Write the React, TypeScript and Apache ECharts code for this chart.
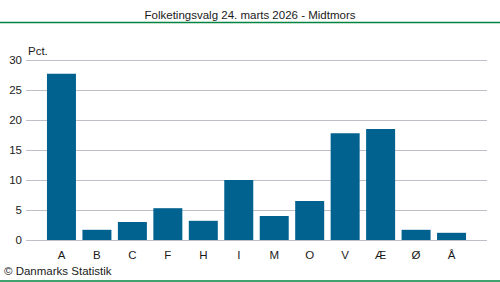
import React, { useEffect, useRef } from "react";
import * as echarts from "echarts";

const categories = ["A", "B", "C", "F", "H", "I", "M", "O", "V", "Æ", "Ø", "Å"];
const values = [27.7, 1.7, 3.0, 5.3, 3.2, 10.0, 4.0, 6.5, 17.8, 18.5, 1.7, 1.2];
const yTicks = [0, 5, 10, 15, 20, 25, 30];
const title = "Folketingsvalg 24. marts 2026 - Midtmors";
const unitLabel = "Pct.";
const credit = "© Danmarks Statistik";

export default function App() {
  const ref = useRef<HTMLDivElement>(null);
  useEffect(() => {
    if (!ref.current) return;
    const chart = echarts.init(ref.current, null, { renderer: "svg" });
    const font = "'Liberation Sans', Arial, sans-serif";
    chart.setOption({
      animation: false,
      textStyle: { fontFamily: font },
      graphic: [
        { type: "text", left: "center", top: 9, style: { text: title, font: `11.5px ${font}`, fill: "#1a1a1a" } },
        { type: "line", shape: { x1: 0, y1: 22.5, x2: 500, y2: 22.5 }, style: { stroke: "#00843f", lineWidth: 1.5 } },
        { type: "text", left: 28, top: 45, style: { text: unitLabel, font: `11.5px ${font}`, fill: "#1a1a1a" } },
        { type: "text", left: 4, top: 265, style: { text: credit, font: `11.5px ${font}`, fill: "#1a1a1a" } },
        { type: "line", shape: { x1: 0, y1: 281, x2: 500, y2: 281 }, style: { stroke: "#00843f", lineWidth: 1.5 } },
      ],
      grid: { left: 26, right: 13, top: 60, bottom: 42, containLabel: false },
      xAxis: {
        type: "value",
        min: -1,
        max: categories.length,
        interval: 1,
        splitLine: { show: false },
        axisLine: { show: false },
        axisTick: { show: false },
        axisLabel: {
          margin: 9,
          fontSize: 11.5,
          color: "#1a1a1a",
          fontFamily: font,
          formatter: (v: number) => categories[v] ?? "",
        },
      },
      yAxis: {
        type: "value",
        min: yTicks[0],
        max: yTicks[yTicks.length - 1],
        interval: 5,
        axisLine: { show: false },
        axisTick: { show: false },
        splitLine: { lineStyle: { color: "#c0bfc8", width: 1 } },
        axisLabel: { margin: 4, fontSize: 11.5, color: "#1a1a1a", fontFamily: font },
      },
      series: [
        {
          type: "bar",
          barWidth: 29,
          itemStyle: { color: "#02628f" },
          data: values.map((v, i) => [i, v]),
        },
      ],
    });
    return () => chart.dispose();
  }, []);
  return <div ref={ref} style={{ width: 500, height: 282, position: "absolute", left: 0, top: 0 }} />;
}
